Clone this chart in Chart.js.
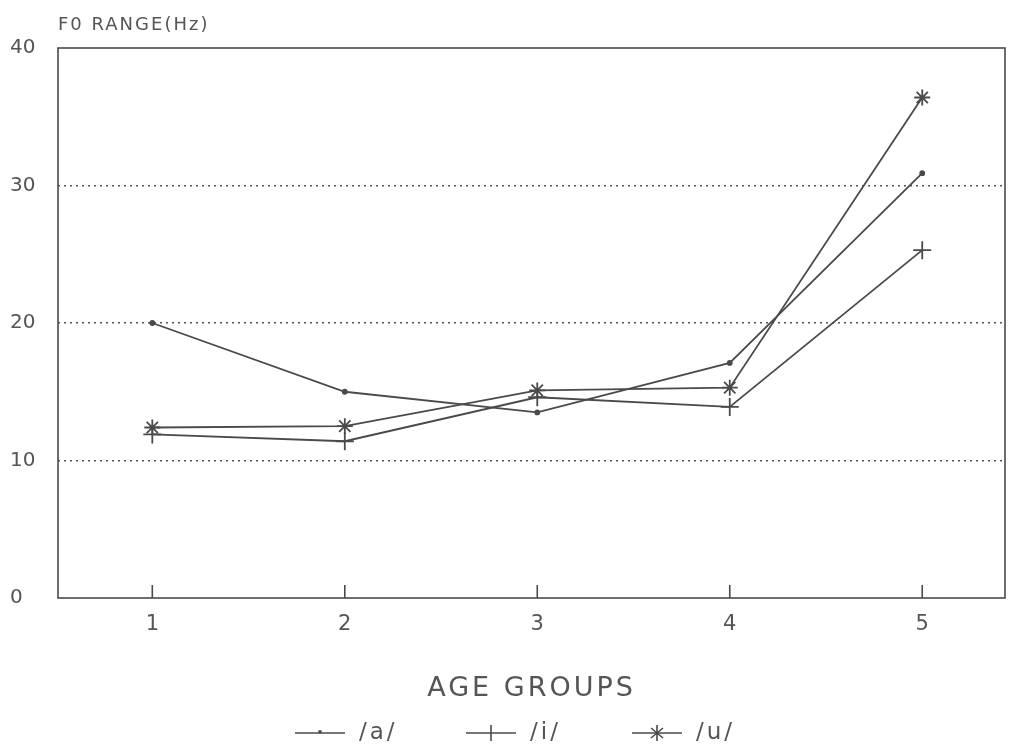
<!DOCTYPE html>
<html>
<head>
<meta charset="utf-8">
<script src="https://cdn.jsdelivr.net/npm/chart.js@4/dist/chart.umd.min.js"></script>
<style>
  html, body { margin: 0; padding: 0; background: #fff; }
  #wrap { width: 1021px; height: 749px; position: relative; }
</style>
</head>
<body>
<div id="wrap"><canvas id="f0Chart"></canvas></div>
<script>
const ageGroups = [1, 2, 3, 4, 5];
const vowelA = [20, 15, 13.5, 17.1, 30.9];
const vowelI = [11.9, 11.4, 14.6, 13.9, 25.3];
const vowelU = [12.4, 12.5, 15.1, 15.3, 36.4];
const yTicks = [0, 10, 20, 30, 40];

const ink = '#4a4a4a';
const textInk = '#555';
const font = "'DejaVu Sans', sans-serif";

const toPoints = vals => ageGroups.map((g, i) => ({ x: g, y: vals[i] }));

// frame, inward x ticks, titles and legend
const decor = {
    id: 'decor',
    afterDraw(chart) {
        const { ctx, chartArea: a, scales } = chart;
        ctx.save();
        ctx.strokeStyle = ink;
        ctx.lineWidth = 1.6;
        ctx.strokeRect(a.left, a.top, a.right - a.left, a.bottom - a.top);

        ageGroups.forEach(g => {
            const x = scales.x.getPixelForValue(g);
            ctx.beginPath();
            ctx.moveTo(x, a.bottom);
            ctx.lineTo(x, a.bottom - 13);
            ctx.stroke();
        });

        ctx.fillStyle = textInk;
        ctx.textBaseline = 'middle';
        ctx.textAlign = 'left';
        ctx.font = '18px ' + font;
        ctx.letterSpacing = '2px';
        ctx.fillText('F0 RANGE(Hz)', 58, 25);

        ctx.font = '27px ' + font;
        ctx.letterSpacing = '3px';
        ctx.textAlign = 'center';
        ctx.fillText('AGE GROUPS', (a.left + a.right) / 2, 689);

        // legend
        const items = [
            { label: '/a/', style: 'dot', x: 295 },
            { label: '/i/', style: 'cross', x: 466 },
            { label: '/u/', style: 'star', x: 632 }
        ];
        const ly = 733;
        ctx.font = '23px ' + font;
        ctx.letterSpacing = '3px';
        ctx.textAlign = 'left';
        items.forEach(it => {
            ctx.beginPath();
            ctx.lineWidth = 1.6;
            ctx.moveTo(it.x, ly);
            ctx.lineTo(it.x + 50, ly);
            ctx.stroke();
            const cx = it.x + 25;
            if (it.style === 'dot') {
                ctx.beginPath();
                ctx.arc(cx, ly - 1, 2, 0, Math.PI * 2);
                ctx.fill();
            } else if (it.style === 'cross') {
                ctx.beginPath();
                ctx.moveTo(cx, ly - 8);
                ctx.lineTo(cx, ly + 8);
                ctx.stroke();
            } else {
                ctx.beginPath();
                ctx.moveTo(cx, ly - 8); ctx.lineTo(cx, ly + 8);
                ctx.moveTo(cx - 6, ly - 5); ctx.lineTo(cx + 6, ly + 5);
                ctx.moveTo(cx + 6, ly - 5); ctx.lineTo(cx - 6, ly + 5);
                ctx.stroke();
            }
            ctx.fillText(it.label, it.x + 64, ly);
        });
        ctx.restore();
    }
};

new Chart(document.getElementById('f0Chart'), {
    type: 'line',
    data: {
        datasets: [
            {
                label: '/a/',
                data: toPoints(vowelA),
                borderColor: ink,
                backgroundColor: ink,
                borderWidth: 1.8,
                pointStyle: 'circle',
                pointRadius: 2,
                tension: 0
            },
            {
                label: '/i/',
                data: toPoints(vowelI),
                borderColor: ink,
                backgroundColor: ink,
                borderWidth: 1.8,
                pointStyle: 'cross',
                pointRadius: 9,
                pointBorderWidth: 1.8,
                tension: 0
            },
            {
                label: '/u/',
                data: toPoints(vowelU),
                borderColor: ink,
                backgroundColor: ink,
                borderWidth: 1.8,
                pointStyle: 'star',
                pointRadius: 8,
                pointBorderWidth: 1.8,
                tension: 0
            }
        ]
    },
    options: {
        responsive: true,
        maintainAspectRatio: false,
        animation: false,
        layout: { padding: { top: 48, right: 16, left: 10, bottom: 0 } },
        plugins: {
            legend: { display: false },
            tooltip: { enabled: false }
        },
        scales: {
            x: {
                type: 'linear',
                min: 0.51,
                max: 5.43,
                afterFit(scale) { scale.height = 151; },
                afterBuildTicks(scale) {
                    scale.ticks = ageGroups.map(v => ({ value: v }));
                },
                grid: { display: false },
                border: { display: false },
                ticks: {
                    color: textInk,
                    font: { family: font, size: 21 },
                    padding: 6
                }
            },
            y: {
                min: 0,
                max: 40,
                afterFit(scale) { scale.width = 48; },
                afterBuildTicks(scale) {
                    scale.ticks = yTicks.map(v => ({ value: v }));
                },
                border: { display: false, dash: [2, 4] },
                grid: {
                    drawTicks: false,
                    color: c => (c.tick.value === 0 || c.tick.value === 40) ? 'rgba(0,0,0,0)' : '#555',
                    lineWidth: 1.6
                },
                ticks: {
                    color: textInk,
                    font: { family: font, size: 20 },
                    crossAlign: 'far',
                    padding: 10
                }
            }
        }
    },
    plugins: [decor]
});
</script>
</body>
</html>
